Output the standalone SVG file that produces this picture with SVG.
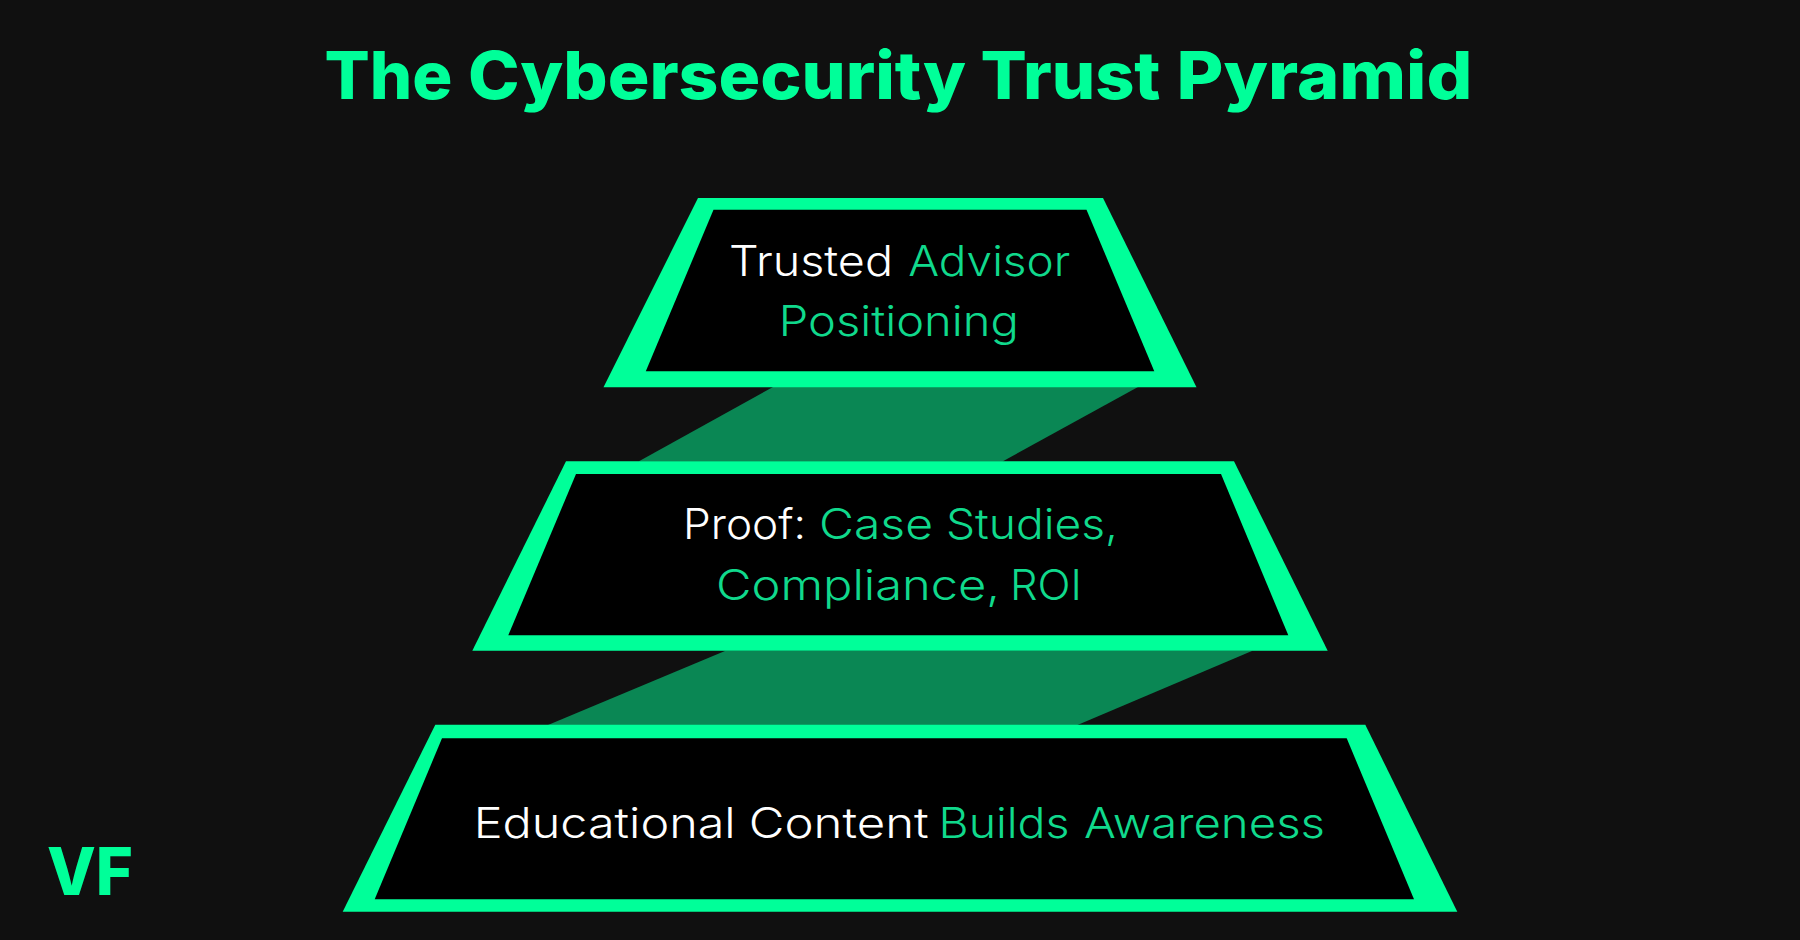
<svg xmlns="http://www.w3.org/2000/svg" width="1800" height="940" viewBox="0 0 1800 940">
<style>
text{font-family:"Inter","Open Sans","Liberation Sans",sans-serif}
.title{font-size:66px;font-weight:800;fill:#00ff99}
.logo{font-size:66px;font-weight:800;fill:#00ff99}
.l{font-size:42.5px;font-weight:350}
.w{fill:#ffffff}
.g{fill:#10d98c}
.frame{fill:#00ff99}
.inner{fill:#000000}
.band{fill:#0a8754}
</style>
<rect width="1800" height="940" fill="#101010"/>
<g id="title" class="title">
<text x="324.5" y="99" textLength="128" lengthAdjust="spacingAndGlyphs">The</text>
<text x="468" y="99" textLength="498" lengthAdjust="spacingAndGlyphs">Cybersecurity</text>
<text x="980.5" y="99" textLength="180" lengthAdjust="spacingAndGlyphs">Trust</text>
<text x="1176.5" y="99" textLength="296" lengthAdjust="spacingAndGlyphs">Pyramid</text>
</g>
<g id="connectors">
<polygon class="band" points="773,387 1138,387 1002.5,461.5 638.5,461.5"/>
<polygon class="band" points="725.5,650.7 1252.5,650.7 1077.5,725 548,725"/>
</g>
<g id="tier-top">
<polygon class="frame" points="698,198 1103,198 1196.5,387.3 603.5,387.3"/>
<polygon class="inner" points="713.5,209.7 1086.5,209.7 1154.3,371.3 645.8,371.3"/>
<text class="l w" x="729" y="275.7" textLength="164" lengthAdjust="spacingAndGlyphs">Trusted</text>
<text class="l g" x="908.2" y="275.7" textLength="162" lengthAdjust="spacingAndGlyphs">Advisor</text>
<text class="l g" x="778.8" y="335.7" textLength="240" lengthAdjust="spacingAndGlyphs">Positioning</text>
</g>
<g id="tier-middle">
<polygon class="frame" points="566,461.3 1234,461.3 1327.7,650.7 472.3,650.7"/>
<polygon class="inner" points="576,474 1221,474 1288.3,635.3 508.3,635.3"/>
<text class="l w" x="683" y="539" textLength="123" lengthAdjust="spacingAndGlyphs">Proof:</text>
<text class="l g" x="819" y="539" textLength="114" lengthAdjust="spacingAndGlyphs">Case</text>
<text class="l g" x="946" y="539" textLength="172" lengthAdjust="spacingAndGlyphs">Studies,</text>
<text class="l g" x="716" y="600" textLength="284" lengthAdjust="spacingAndGlyphs">Compliance,</text>
<text class="l g" x="1010" y="600" textLength="72" lengthAdjust="spacingAndGlyphs">ROI</text>
</g>
<g id="tier-bottom">
<polygon class="frame" points="435.3,724.7 1365.3,724.7 1457.3,911.7 342.7,911.7"/>
<polygon class="inner" points="442,738.3 1346.7,738.3 1414,899.3 374.7,899.3"/>
<text class="l w" x="473.7" y="838.3" textLength="262" lengthAdjust="spacingAndGlyphs">Educational</text>
<text class="l w" x="748.7" y="838.3" textLength="180" lengthAdjust="spacingAndGlyphs">Content</text>
<text class="l g" x="938.5" y="838.3" textLength="131" lengthAdjust="spacingAndGlyphs">Builds</text>
<text class="l g" x="1084" y="838.3" textLength="241" lengthAdjust="spacingAndGlyphs">Awareness</text>
</g>
<text id="logo" class="logo" x="47" y="895" textLength="86" lengthAdjust="spacingAndGlyphs">VF</text>
</svg>
